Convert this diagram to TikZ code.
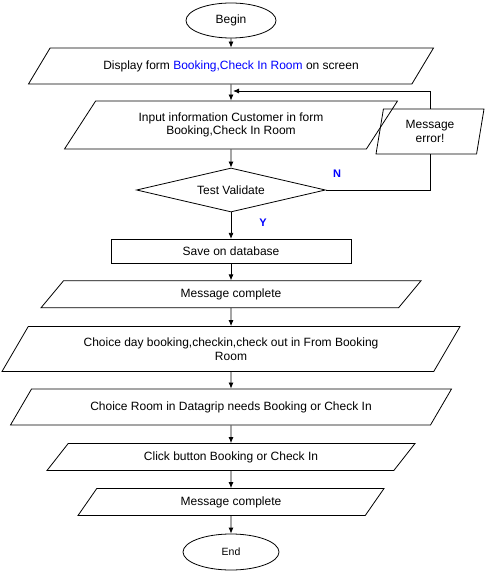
\documentclass[tikz,border=0pt]{standalone}
\usepackage{fontspec}
\setmainfont{Liberation Sans}
\usetikzlibrary{arrows.meta,positioning,shapes.geometric}

\definecolor{formblue}{RGB}{0,0,255}

\tikzset{
	io/.style = {draw, trapezium, trapezium stretches body, trapezium left angle=#1, trapezium right angle=180-#1, inner sep=1pt, align=center},
	startstop/.style = {draw, ellipse, inner sep=0pt},
	proc/.style = {draw, rectangle, minimum width=240pt, minimum height=24pt},
	decision/.style = {draw, diamond, aspect=4.3, inner sep=0pt, minimum width=189pt, minimum height=44pt},
	flow/.style = {-{Latex[length=6pt,width=5pt]}},
	yesno/.style = {text=formblue, font=\fontsize{11}{13}\selectfont\bfseries}
}

\begin{document}
\begin{tikzpicture}[x=1pt, y=-1pt, line width=0.8pt, font=\fontsize{12}{13.5}\selectfont]
		\useasboundingbox (0,0) rectangle (487,572);
		
		\node[startstop, minimum width=90pt, minimum height=35pt] (begin) at (231,20.5) {Begin};
		\node[io=31.4, minimum width=405pt, minimum height=36pt] (display) at (231,66) {Display form \textcolor{formblue}{Booking,Check In Room} on screen};
		\node[io=40.6, minimum width=333pt, minimum height=48pt] (input) at (231,125) {Input information Customer in form\\Booking,Check In Room};
		\node[io=72.7, minimum width=108pt, minimum height=45pt] (error) at (430,131.5) {Message\\error!};
		\node[decision] (check) at (231,190) {Test Validate};
		\node[proc] (save) at (231,251.3) {Save on database};
		\node[io=30.4, minimum width=380pt, minimum height=27pt] (done) at (231,294.3) {Message complete};
		\node[io=42.8, minimum width=458pt, minimum height=45pt] (day) at (231,349) {Choice day booking,checkin,check out in From Booking\\Room};
		\node[io=32.1, minimum width=441pt, minimum height=36pt] (room) at (231,407) {Choice Room in Datagrip needs Booking or Check In};
		\node[io=31.9, minimum width=368pt, minimum height=27pt] (click) at (231,457) {Click button Booking or Check In};
		\node[io=35.1, minimum width=306pt, minimum height=27pt] (done2) at (231,502) {Message complete};
		\node[startstop, minimum width=96pt, minimum height=36pt, font=\fontsize{10.5}{12}\selectfont] (end) at (231,552) {End};
		
		\node[yesno] (no) at (337,174) {N};
		\node[yesno] (yes) at (263,223) {Y};
		\coordinate (back) at (233,91);
		
		\draw[flow] (begin) -- (display);
		\draw[flow] (display) -- (input);
		\draw[flow] (input) -- (check);
		\draw[flow] (check) -- (save);
		\draw[flow] (save) -- (done);
		\draw[flow] (done) -- (day);
		\draw[flow] (day) -- (room);
		\draw[flow] (room) -- (click);
		\draw[flow] (click) -- (done2);
		\draw[flow] (done2) -- (end);
		\draw (check.east) -| (error.south);
		\draw[flow] (error.north) |- (back);
	\end{tikzpicture}
\end{document}
